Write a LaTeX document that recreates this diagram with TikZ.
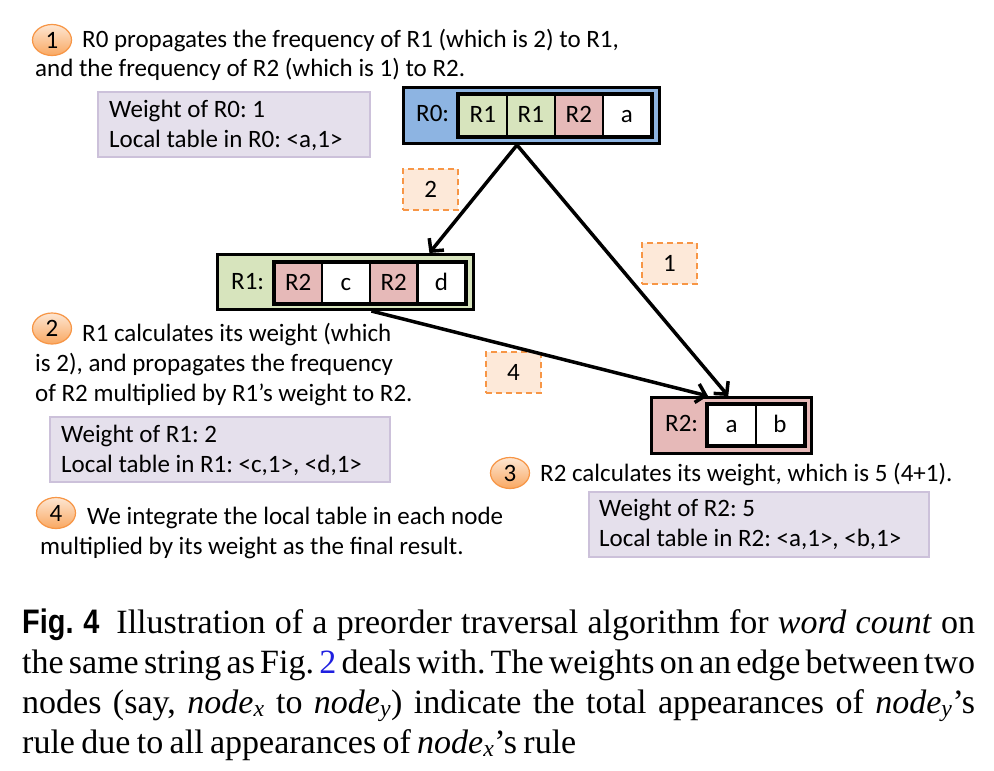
\documentclass[tikz,border=0pt]{standalone}
\usepackage{fontspec}
\setmainfont{Carlito}
\newfontfamily\capserif[WordSpace={0.75,1.5,1.3}]{Liberation Serif}
\newfontfamily\capsans[FakeStretch=0.85]{Liberation Sans}
\usetikzlibrary{arrows.meta,calc,shapes.geometric}
\definecolor{rzero}{HTML}{8DB4E2}
\definecolor{rone}{HTML}{D7E4BD}
\definecolor{rtwo}{HTML}{E6B9B8}
\definecolor{wfill}{HTML}{E5E0EC}
\definecolor{wdraw}{HTML}{CCC1DA}
\definecolor{lfill}{HTML}{FDE9D9}
\definecolor{ldraw}{HTML}{F79646}
\definecolor{btop}{HTML}{FDE6D2}
\definecolor{bbot}{HTML}{F9A862}
\definecolor{linkblue}{HTML}{1F1FE0}
\frenchspacing
\begin{document}
\begin{tikzpicture}[x=1pt,y=-1pt,
  font=\fontsize{25}{29}\selectfont,
  txt/.style={anchor=base west, inner sep=0pt},
  badge/.style={ellipse, draw=ldraw, line width=1.2pt, top color=btop, bottom color=bbot,
    minimum width=39pt, minimum height=31pt, inner sep=0pt},
  wbox/.style={draw=wdraw, fill=wfill, line width=1.5pt, anchor=north west, inner sep=0pt},
  grp/.style={draw, line width=3pt, anchor=north west, inner sep=0pt},
  cellbox/.style={draw, line width=2.5pt, anchor=north west, inner sep=0pt,
    text height=18pt, text depth=3pt},
  lbl/.style={draw=ldraw, fill=lfill, dash pattern=on 6pt off 4pt, line width=1.5pt,
    minimum width=55pt, minimum height=41pt, inner sep=0pt},
  arr/.style={line width=3.5pt, -{Straight Barb[length=9pt,width=19pt]}}]
\path[fill=white, use as bounding box] (0,0) rectangle (994,771);

% ---- step 1
\node[badge] (b1) at (52,40) {1};
\node[txt] (t1a) at (82,47) {R0 propagates the frequency of R1 (which is 2) to R1,};
\node[txt] (t1b) at (35,76) {and the frequency of R2 (which is 1) to R2.};
\node[wbox, minimum width=272pt, minimum height=65pt] (w0) at (97,91) {};
\node[txt] (w0a) at (109,117) {Weight of R0: 1};
\node[txt] (w0b) at (109,147) {Local table in R0: <a,1>};

% ---- R0
\node[grp, fill=rzero, minimum width=256pt, minimum height=56pt] (R0) at (402,86) {};
\node[txt] (R0l) at (416,121.5) {R0:};
\node[cellbox, fill=rone, minimum width=48pt, minimum height=42pt] (c01) at (457.6,93) {R1};
\node[cellbox, fill=rone, minimum width=48pt, minimum height=42pt] (c02) at (505.6,93) {R1};
\node[cellbox, fill=rtwo, minimum width=48pt, minimum height=42pt] (c03) at (553.6,93) {R2};
\node[cellbox, fill=white, minimum width=48pt, minimum height=42pt] (c04) at (601.6,93) {a};
\draw[line width=3pt] (c01.north west) rectangle (c04.south east);

% ---- R1
\node[grp, fill=rone, minimum width=256pt, minimum height=55pt] (R1) at (216,253) {};
\node[txt] (R1l) at (231,289) {R1:};
\node[cellbox, fill=rtwo, minimum width=47.75pt, minimum height=41pt] (c11) at (273,261) {R2};
\node[cellbox, fill=white, minimum width=47.75pt, minimum height=41pt] (c12) at (320.75,261) {c};
\node[cellbox, fill=rtwo, minimum width=47.75pt, minimum height=41pt] (c13) at (368.5,261) {R2};
\node[cellbox, fill=white, minimum width=47.75pt, minimum height=41pt] (c14) at (416.25,261) {d};
\draw[line width=3pt] (c11.north west) rectangle (c14.south east);

% ---- R2
\node[grp, fill=rtwo, minimum width=160pt, minimum height=56pt] (R2) at (650,396) {};
\node[txt] (R2l) at (665,431) {R2:};
\node[cellbox, fill=white, minimum width=48.5pt, minimum height=41pt] (c21) at (706,403) {a};
\node[cellbox, fill=white, minimum width=48.5pt, minimum height=41pt] (c22) at (754.5,403) {b};
\draw[line width=3pt] (c21.north west) rectangle (c22.south east);

% ---- edge labels
\node[lbl] (L2) at (430.7,189.6) {2};
\node[lbl] (L1) at (669.4,263.6) {1};
\node[lbl] (L4) at (513.4,372.7) {4};

% ---- arrows
\draw[arr] ($(R0.south west)!0.444!(R0.south east)$) -- ($(R1.north west)!0.824!(R1.north east)$);
\draw[arr] ($(R0.south west)!0.444!(R0.south east)$) -- ($(R2.north west)!0.48!(R2.north east)$);
\draw[arr] ($(R1.south west)!0.6!(R1.south east)$) -- ($(R2.north west)!0.356!(R2.north east)$);

% ---- step 2
\node[badge] (b2) at (52,328.5) {2};
\node[txt] (t2a) at (82,341.7) {R1 calculates its weight (which};
\node[txt] (t2b) at (35,371.7) {is 2), and propagates the frequency};
\node[txt] (t2c) at (35,401.7) {of R2 multiplied by R1’s weight to R2.};
\node[wbox, minimum width=340pt, minimum height=65pt] (w1) at (49,416) {};
\node[txt] (w1a) at (61,442) {Weight of R1: 2};
\node[txt] (w1b) at (61,472) {Local table in R1: <c,1>, <d,1>};

% ---- step 3
\node[badge] (b3) at (510,473) {3};
\node[txt] (t3a) at (540,481) {R2 calculates its weight, which is 5 (4+1).};
\node[wbox, minimum width=340pt, minimum height=65pt] (w2) at (588,491) {};
\node[txt] (w2a) at (599,516) {Weight of R2: 5};
\node[txt] (w2b) at (599,546) {Local table in R2: <a,1>, <b,1>};

% ---- step 4
\node[badge] (b4) at (56,513) {4};
\node[txt] (t4a) at (87,524) {We integrate the local table in each node};
\node[txt] (t4b) at (40,554) {multiplied by its weight as the final result.};

% ---- caption
\node[anchor=base west, text width=953pt, align=justify, inner sep=0pt,
  font={\capserif\fontsize{34}{40}\selectfont}] (cap) at (22,633)
  {{\capsans\bfseries Fig.~4}\hspace{17pt}Illustration of a preorder traversal algorithm for \textit{word count} on\linebreak
  the same string as Fig.~\textcolor{linkblue}{2} deals with. The weights on an edge between two\linebreak
  nodes (say, \textit{node}\textsubscript{\textit{x}} to \textit{node}\textsubscript{\textit{y}}) indicate the total appearances of \textit{node}\textsubscript{\textit{y}}’s\linebreak
  rule due to all appearances of \textit{node}\textsubscript{\textit{x}}’s rule};
\end{tikzpicture}
\end{document}
